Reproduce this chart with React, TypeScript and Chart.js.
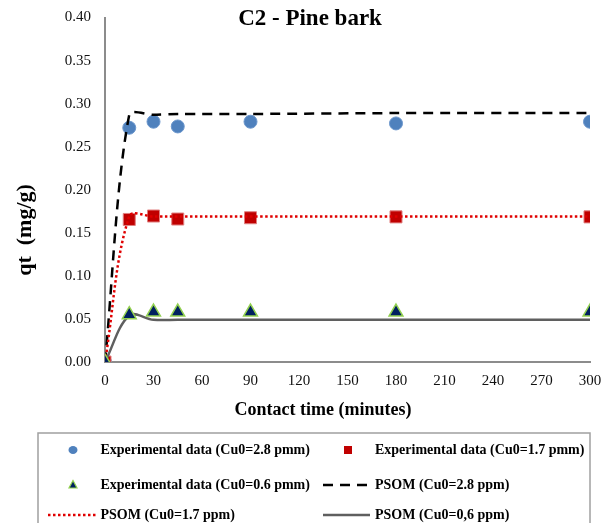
import React, { useEffect, useRef } from 'react';
import { Chart, registerables } from 'chart.js';

Chart.register(...registerables);

// ---- data ----
const times = [0, 15, 30, 45, 90, 180, 300];
const exp28 = [0, 0.272, 0.279, 0.2735, 0.279, 0.277, 0.279];
const exp17 = [0, 0.1655, 0.1695, 0.166, 0.1675, 0.1685, 0.1685];
const exp06 = [0, 0.055, 0.058, 0.058, 0.058, 0.058, 0.058];
const psom28 = [0, 0.287, 0.287, 0.288, 0.288, 0.289, 0.289];
const psom17 = [0, 0.169, 0.169, 0.169, 0.169, 0.169, 0.169];
const psom06 = [0, 0.054, 0.049, 0.049, 0.049, 0.049, 0.049];

const xMin = 0, xMax = 300, xStep = 30;
const yMin = 0, yMax = 0.4, yStep = 0.05;

const chartTitle = 'C2 - Pine bark';
const xTitle = 'Contact time (minutes)';
const yTitle = 'qt  (mg/g)';

const labels = [
  'Experimental data (Cu0=2.8 pmm)',
  'Experimental data (Cu0=1.7 pmm)',
  'Experimental data (Cu0=0.6 pmm)',
  'PSOM (Cu0=2.8 ppm)',
  'PSOM (Cu0=1.7 ppm)',
  'PSOM (Cu0=0,6 ppm)',
];

const SERIF = "'Liberation Serif', 'Times New Roman', serif";

const pts = (ys: number[]) => times.map((t, i) => ({ x: t, y: ys[i] }));

const textPlugin = {
  id: 'customText',
  afterDraw(chart: any) {
    const ctx = chart.ctx;
    ctx.save();
    ctx.fillStyle = '#000';
    ctx.textAlign = 'center';
    ctx.textBaseline = 'middle';
    ctx.font = `bold 23px ${SERIF}`;
    ctx.fillText(chartTitle, 302, 11);
    ctx.font = `bold 18px ${SERIF}`;
    ctx.fillText(xTitle, 315, 402);
    ctx.save();
    ctx.translate(17, 222);
    ctx.rotate(-Math.PI / 2);
    ctx.font = `bold 22px ${SERIF}`;
    ctx.fillText(yTitle, 0, 0);
    ctx.restore();

    // legend box
    ctx.strokeStyle = '#a0a0a0';
    ctx.lineWidth = 1.5;
    ctx.strokeRect(30, 425, 552, 120);

    const rows = [442, 477, 507];
    const textX = [92.5, 367];
    const items = [
      { kind: 'circle', col: 0, row: 0 },
      { kind: 'rect', col: 1, row: 0 },
      { kind: 'triangle', col: 0, row: 1 },
      { kind: 'dash', col: 1, row: 1 },
      { kind: 'dot', col: 0, row: 2 },
      { kind: 'solid', col: 1, row: 2 },
    ];
    items.forEach((it, i) => {
      const y = rows[it.row];
      const mx = it.col === 0 ? 65 : 340;
      ctx.save();
      if (it.kind === 'circle') {
        ctx.fillStyle = '#4f81bd';
        ctx.beginPath();
        ctx.ellipse(mx, y, 4.5, 4, 0, 0, Math.PI * 2);
        ctx.fill();
      } else if (it.kind === 'rect') {
        ctx.fillStyle = '#c00000';
        ctx.fillRect(mx - 4, y - 4, 8, 8);
      } else if (it.kind === 'triangle') {
        ctx.fillStyle = '#002060';
        ctx.strokeStyle = '#92d050';
        ctx.lineWidth = 1.2;
        ctx.beginPath();
        ctx.moveTo(mx, y - 4.5);
        ctx.lineTo(mx + 4, y + 3);
        ctx.lineTo(mx - 4, y + 3);
        ctx.closePath();
        ctx.fill();
        ctx.stroke();
      } else {
        const x0 = it.col === 0 ? 40 : 315;
        const x1 = it.col === 0 ? 89 : 362;
        ctx.beginPath();
        ctx.moveTo(x0, y);
        ctx.lineTo(x1, y);
        if (it.kind === 'dash') {
          ctx.strokeStyle = '#000';
          ctx.lineWidth = 2.5;
          ctx.setLineDash([10, 7]);
        } else if (it.kind === 'dot') {
          ctx.strokeStyle = '#e00000';
          ctx.lineWidth = 2.5;
          ctx.setLineDash([2.5, 2.5]);
        } else {
          ctx.strokeStyle = '#5f5f5f';
          ctx.lineWidth = 2.5;
        }
        ctx.stroke();
      }
      ctx.restore();
      ctx.fillStyle = '#000';
      ctx.textAlign = 'left';
      ctx.font = `bold 14px ${SERIF}`;
      ctx.fillText(labels[i], textX[it.col], y);
    });
    ctx.restore();
  },
};

export default function App() {
  const ref = useRef<HTMLCanvasElement | null>(null);
  useEffect(() => {
    if (!ref.current) return;
    const chart = new Chart(ref.current, {
      type: 'scatter',
      data: {
        datasets: [
          {
            label: labels[0],
            data: pts(exp28),
            showLine: false,
            pointStyle: 'circle',
            pointRadius: 6.5,
            pointBackgroundColor: '#4f81bd',
            pointBorderColor: '#6b96cc',
            pointBorderWidth: 1,
            order: 6,
          },
          {
            label: labels[1],
            data: pts(exp17),
            showLine: false,
            pointStyle: 'rect',
            pointRadius: 8.5,
            pointBackgroundColor: '#c00000',
            pointBorderColor: '#e08080',
            pointBorderWidth: 1,
            order: 5,
          },
          {
            label: labels[3],
            data: pts(psom28),
            showLine: true,
            borderColor: '#000',
            borderWidth: 2.5,
            borderDash: [10, 7],
            tension: 0.3,
            pointRadius: 0,
            order: 4,
          },
          {
            label: labels[4],
            data: pts(psom17),
            showLine: true,
            borderColor: '#e00000',
            borderWidth: 2.5,
            borderDash: [2.5, 2.5],
            tension: 0.35,
            pointRadius: 0,
            order: 3,
          },
          {
            label: labels[5],
            data: pts(psom06),
            showLine: true,
            borderColor: '#5f5f5f',
            borderWidth: 2.5,
            tension: 0.35,
            pointRadius: 0,
            order: 2,
          },
          {
            label: labels[2],
            data: pts(exp06),
            showLine: false,
            pointStyle: 'triangle',
            pointRadius: 8,
            pointBackgroundColor: '#002060',
            pointBorderColor: '#92d050',
            pointBorderWidth: 1.5,
            order: 1,
          },
        ],
      },
      options: {
        animation: false,
        responsive: false,
        maintainAspectRatio: false,
        layout: { padding: { left: 0, top: 7, right: 16, bottom: 0 } },
        plugins: {
          legend: { display: false },
          title: { display: false },
          tooltip: { enabled: false },
        },
        scales: {
          x: {
            type: 'linear',
            min: xMin,
            max: xMax,
            grid: { color: 'transparent', drawTicks: false },
            border: { display: true, color: '#8c8c8c', width: 2 },
            ticks: {
              stepSize: xStep,
              padding: 10,
              color: '#111',
              font: { family: SERIF, size: 15 },
            },
            afterFit: (s: any) => {
              s.height = 161;
              s.paddingLeft = 0;
              s.paddingRight = 0;
            },
          },
          y: {
            type: 'linear',
            min: yMin,
            max: yMax,
            grid: { color: 'transparent', drawTicks: false },
            border: { display: true, color: '#8c8c8c', width: 2 },
            ticks: {
              stepSize: yStep,
              padding: 14,
              color: '#111',
              font: { family: SERIF, size: 15 },
              callback: (v: any) => Number(v).toFixed(2),
            },
            afterFit: (s: any) => {
              s.width = 97;
              s.paddingTop = 0;
              s.paddingBottom = 0;
            },
          },
        },
      },
      plugins: [textPlugin],
    });
    return () => chart.destroy();
  }, []);
  return (
    <div style={{ width: 598, height: 515 }}>
      <canvas ref={ref} width={598} height={515} style={{ display: 'block' }} />
    </div>
  );
}
